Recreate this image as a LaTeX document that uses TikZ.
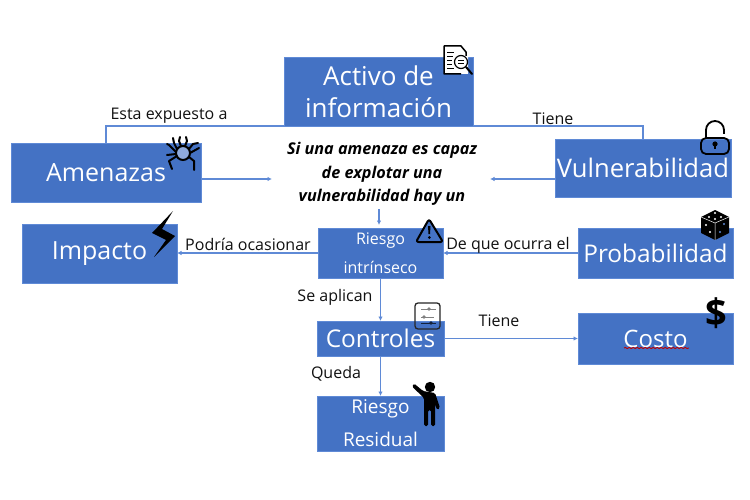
\documentclass[tikz,border=0pt]{standalone}
\usepackage{fontspec}
\setmainfont{Open Sans}
\usetikzlibrary{arrows.meta,decorations.pathmorphing}
\definecolor{boxblue}{HTML}{4472C4}
\definecolor{edgeblue}{HTML}{5F8AD6}
\definecolor{ink}{HTML}{111111}
\tikzset{
  x=1pt,y=-1pt,
  bluebox/.style={draw=edgeblue,line width=0.8pt,fill=boxblue,text=white,inner sep=0pt,outer sep=0pt,align=center,anchor=north west},
  big/.style={font=\fontsize{25}{32}\selectfont},
  conn/.style={draw=edgeblue,line width=1.2pt},
  arr/.style={conn,-{Latex[length=4.5pt,width=4.5pt]}},
  lbl/.style={text=ink,font=\fontsize{16}{19}\selectfont,inner sep=0pt},
}
\begin{document}
\begin{tikzpicture}
\useasboundingbox (0,0) rectangle (750,500);
\fill[white] (0,0) rectangle (750,500);

\node[bluebox,font=\fontsize{26}{32}\selectfont,minimum width=189,minimum height=69] (activo) at (284,57) {Activo de\\información};
\node[bluebox,big,minimum width=190,minimum height=59] (amen) at (11,143) {Amenazas};
\node[bluebox,font=\fontsize{25.6}{32}\selectfont,minimum width=176,minimum height=58] (vuln) at (555,139) {\raisebox{1pt}{Vulnerabilidad}};
\node[bluebox,big,minimum width=155,minimum height=59] (imp) at (22,224) {\raisebox{-2pt}{Impacto}};
\node[bluebox,font=\fontsize{16}{29}\selectfont,minimum width=125,minimum height=50] (rint) at (318,228) {Riesgo\\intrínseco};
\node[bluebox,font=\fontsize{24.4}{28}\selectfont,minimum width=155,minimum height=50] (prob) at (578,228) {Probabilidad};
\node[bluebox,font=\fontsize{24.4}{28}\selectfont,minimum width=127,minimum height=35] (ctrl) at (317,321) {Controles};
\node[bluebox,font=\fontsize{24}{28}\selectfont,minimum width=155,minimum height=51] (costo) at (578,313) {Costo};
\node[bluebox,font=\fontsize{19}{33}\selectfont,minimum width=127,minimum height=55] (rres) at (317,396) {Riesgo\\Residual};

\node[text=black,align=center,inner sep=0pt,font=\fontsize{16.2}{23.5}\selectfont\bfseries\itshape] (texto) at (382,174) {Si una amenaza es capaz\\de explotar una\\vulnerabilidad hay un};
\coordinate (tl) at (272,179);
\coordinate (tr) at (490,179);
\coordinate (tb) at (379,209);

\draw[conn] (amen.north) |- (activo.south west);
\draw[conn] (activo.south east) -| (vuln.north);
\draw[arr] (amen.east |- tl) -- (tl);
\draw[arr] (vuln.west |- tr) -- (tr);
\draw[arr] (tb) -- ([yshift=3pt]tb |- rint.north);
\draw[arr] (rint.west) -- (imp.east |- rint.west);
\draw[arr] (prob.west) -- (rint.east);
\draw[arr] (rint.south) -- (rint.south |- ctrl.north);
\draw[arr] (ctrl.east) -- (costo.west |- ctrl.east);
\draw[arr] (ctrl.south) -- (ctrl.south |- rres.north);

\node[lbl] (l1) at (169,116) {Esta expuesto a};
\node[lbl] (l2) at (553,119) {Tiene};
\node[lbl] (l3) at (248,244) {Podría ocasionar};
\node[lbl] (l4) at (508,245) {De que ocurra el};
\node[lbl] (l5) at (335,297) {Se aplican};
\node[lbl] (l6) at (499,321) {Tiene};
\node[lbl] (l7) at (336,374) {Queda};

% wavy spell-check underline
\draw[red!75!black,line width=0.9pt,decorate,decoration={snake,amplitude=0.6pt,segment length=4pt}] (624,348) -- (689,348);

% document + magnifier
\fill[white] (444,46) -- (461,46) -- (468,53) -- (468,74) -- (444,74) -- cycle;
\draw[black,line width=1.5pt,line join=round] (461,74) -- (444,74) -- (444,46) -- (461,46) -- (466,52) -- (466,56);
\draw[black,line width=1pt] (447,53) -- (454,53) (447,57) -- (453,57) (447,61) -- (452,61) (447,65) -- (452,65) (447,69) -- (454,69);
\draw[black,line width=1.2pt,fill=white] (461,62) circle (6.5);
\draw[black,line width=0.8pt] (458,60) -- (464,60) (458,63) -- (464,63);
\draw[black,line width=2pt,line cap=round] (466,67) -- (472,74);

% spider
\begin{scope}[shift={(183,153)}]
\draw[black,line width=2pt,fill=boxblue!60!white] (0,0) circle (7);
\draw[black,line width=2pt,line cap=round,line join=round]
 (-6,-4) -- (-9,-10) -- (-10,-15)
 (-2,-7) -- (-4,-12) -- (-3,-16)
 (2,-7) -- (4,-12) -- (3,-16)
 (6,-4) -- (10,-9) -- (15,-10)
 (-7,-1) -- (-14,-8) -- (-16,-9)
 (7,0) -- (16,-5)
 (-6,3) -- (-14,8) -- (-11,16)
 (6,4) -- (11,8) -- (11,17)
 (-7,1) -- (-16,2);
\end{scope}

% lightning
\fill[black] (173,211) -- (152,233) -- (166,240) -- (154,257) -- (175,236) -- (162,229) -- cycle;

% lock
\begin{scope}[shift={(715,140)}]
\draw[black,line width=1.8pt,rounded corners=5pt] (-14,-2) rectangle (14,14);
\draw[black,line width=1.8pt] (-9,-2) -- (-9,-10) arc (180:360:9) -- (9,-6);
\fill[black] (0,4) circle (2.6);
\draw[black,line width=1.4pt] (0,4) -- (0,9);
\end{scope}

% dice
\begin{scope}[shift={(715,226)}]
\fill[black] (-14,-9) -- (0,-16) -- (14,-9) -- (14,7) -- (0,14) -- (-14,7) -- cycle;
\draw[white,line width=0.5pt] (-14,-9) -- (0,-3) -- (14,-9) (0,-3) -- (0,14);
\fill[white] (0,-13) circle (1.1) (-6,-9) circle (1.1) (6,-9) circle (1.1) (0,-7) circle (1.1);
\fill[white] (-9,-1) circle (1.2) (-5,6) circle (1.2);
\fill[edgeblue] (5,6) circle (1.2) (9,-2) circle (1.2);
\end{scope}

% dollar
\node[text=black,inner sep=0pt,font=\fontsize{38}{38}\selectfont\bfseries] (dollar) at (716,313) {\$};

% warning triangle
\draw[black,line width=2pt,line join=round,rounded corners=2.5pt,fill=boxblue] (429,219) -- (443,242) -- (416,242) -- cycle;
\fill[black] (428,226) -- (430.5,226) -- (430,234) -- (428.5,234) -- cycle;
\fill[black] (429.3,237.5) circle (1.5);

% sliders
\draw[black!85,line width=1.3pt,rounded corners=3pt] (415,303) rectangle (440,329);
\draw[gray,line width=0.8pt] (421,309) -- (436,309) (421,317) -- (434,317);
\draw[black!70!boxblue,line width=0.9pt] (421,323) -- (436,323);
\fill[gray] (429,309) circle (1.8) (424,317) circle (1.8);
\fill[black!70!boxblue] (431,323) circle (1.8);

% person
\fill[black] (430,387) circle (5.2);
\fill[black,rounded corners=1.5pt] (412,386.5) -- (414,383.5) -- (423,391) -- (435,393) -- (440,408) -- (437,410) -- (435,404) -- (435,426) -- (431,426) -- (431,410) -- (428,410) -- (428,426) -- (424,426) -- (424,398) -- cycle;
\end{tikzpicture}
\end{document}
